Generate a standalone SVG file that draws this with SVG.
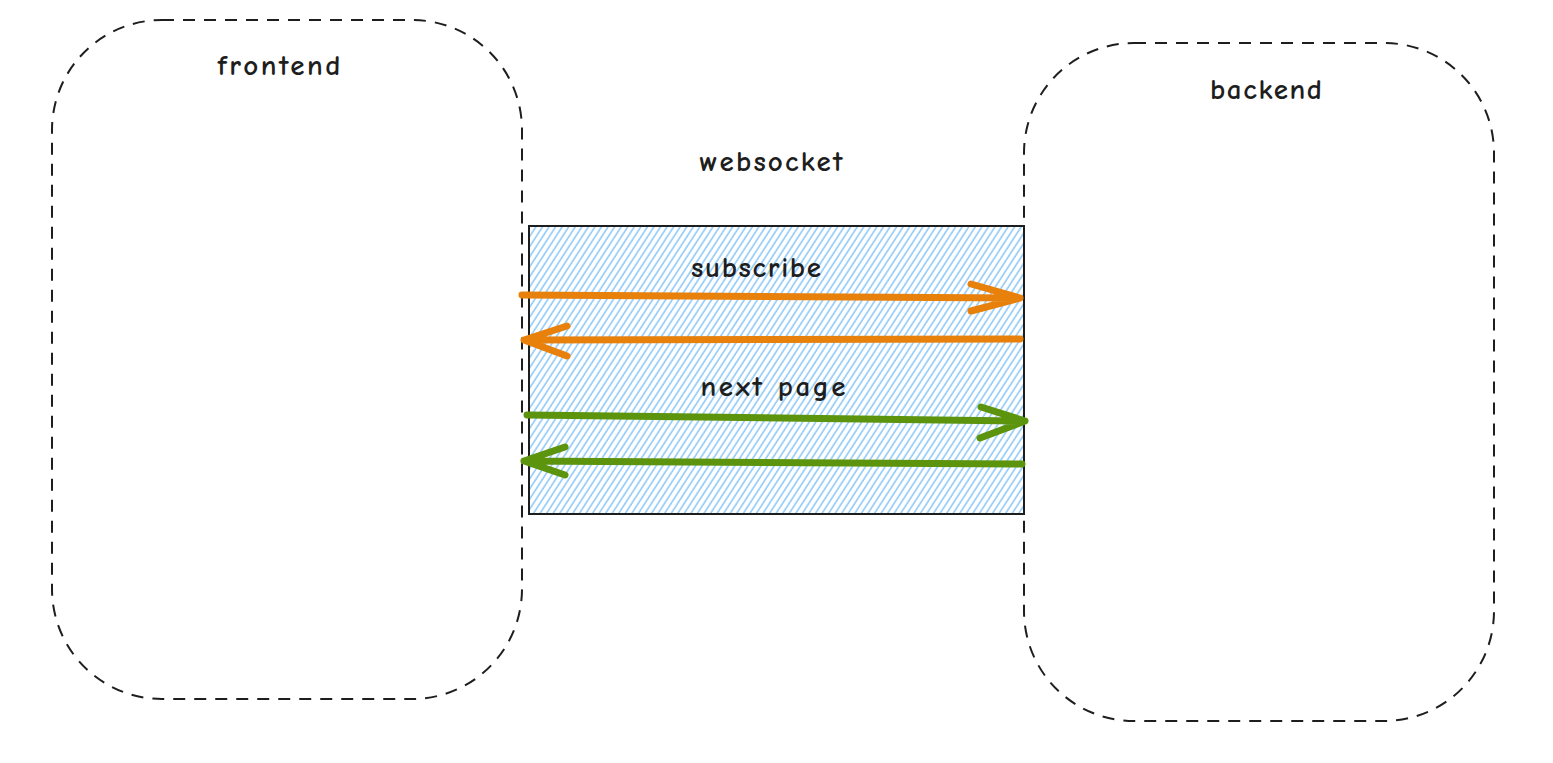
<svg xmlns="http://www.w3.org/2000/svg" width="1553" height="763" viewBox="0 0 1553 763">
<style>
.zone{fill:none;stroke:#1e1e1e;stroke-width:2;stroke-dasharray:12 9;}
.lbl{font-family:"Comic Neue","Liberation Sans",sans-serif;font-size:29px;font-weight:bold;fill:#1e1e1e;text-anchor:middle;}
.arr{fill:none;stroke-width:7;stroke-linecap:round;stroke-linejoin:round;}
.orange{stroke:#e8800c;}
.green{stroke:#5c940d;}
</style>
<defs>
<pattern id="hatch" patternUnits="userSpaceOnUse" width="5.5" height="10" patternTransform="rotate(33)">
<line x1="1" y1="0" x2="1" y2="10" stroke="#5fb2f5" stroke-width="1.1"/>
</pattern>
</defs>
<rect width="1553" height="763" fill="#ffffff"/>
<g id="frontend">
<rect class="zone" x="52" y="20" width="470" height="679" rx="110" ry="110"/>
<text class="lbl" x="279" y="75" textLength="123">frontend</text>
</g>
<g id="backend">
<rect class="zone" x="1024" y="43" width="470" height="678" rx="110" ry="110"/>
<text class="lbl" x="1266" y="99" textLength="112">backend</text>
</g>
<g id="websocket-label">
<text class="lbl" x="771" y="171" textLength="143">websocket</text>
</g>
<g id="websocket">
<rect x="529" y="226" width="495" height="288" fill="url(#hatch)" stroke="#1e1e1e" stroke-width="2"/>
<text class="lbl" x="756" y="277" textLength="130">subscribe</text>
<text class="lbl" x="773" y="396" textLength="145">next page</text>
</g>
<g id="connectors">
<path class="arr orange" d="M522 295 L1020 298 M971 284 L1020 298 L971 311"/>
<path class="arr orange" d="M1020 339 L524 340 M567 326 L524 340 L567 356"/>
<path class="arr green" d="M527 415 L1025 421 M981 407 L1025 421 L980 438"/>
<path class="arr green" d="M1022 464 L524 461 M565 447 L524 461 L565 475"/>
</g>
</svg>
